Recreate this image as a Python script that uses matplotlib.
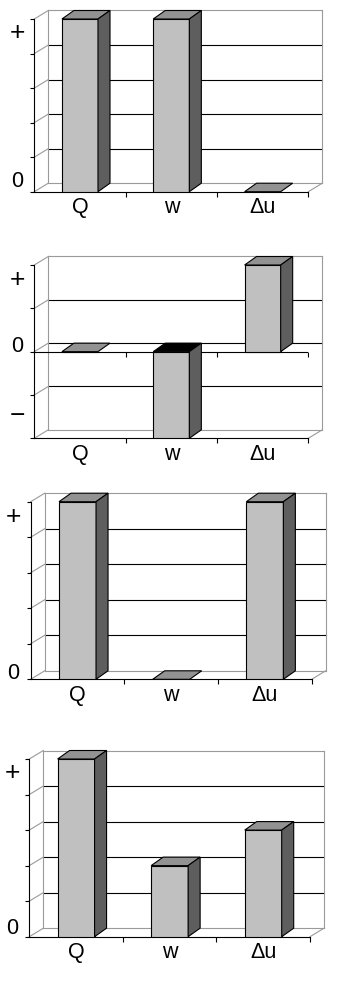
import matplotlib
matplotlib.use('Agg')
import matplotlib.pyplot as plt
from matplotlib.patches import Polygon
import numpy as np

plt.rcParams['font.family'] = ['Liberation Sans', 'DejaVu Sans']

# data
categories = ['Q', 'w', 'Δu']
values_a = [5, 5, 0]
values_b = [0, -2, 2]
values_c = [5, 0, 5]
values_d = [5, 2, 3]
all_values = [values_a, values_b, values_c, values_d]
y_ranges = [(0, 5), (-2, 2), (0, 5), (0, 5)]
sign_labels = [
    [('+', 4.6), ('0', 0.3)],
    [('+', 1.65), ('0', 0.12), ('−', -1.49)],
    [('+', 4.58), ('0', 0.17)],
    [('+', 4.6), ('0', 0.24)],
]

# layout: front plot box of every panel in pixels (left, right, top, bottom)
W_PX, H_PX = 352, 988
boxes = [(34.3, 308.3, 19, 191.7),
         (34.3, 308.3, 265, 438.3),
         (30.7, 311.7, 501.7, 679.3),
         (29.3, 310, 759, 936.7)]

# 3d look, in pixels
wall_dx, wall_dy = 14, 8.5
bar_dx, bar_dy = 12, 8.5
bar_width = 0.395

front_col = '#c0c0c0'
side_col = '#5e5e5e'
top_col = '#929292'
wall_col = '#9a9a9a'
lw = 0.8
fsize = 15.5
sign_size = 19


def draw_panel(ax, values, ylo, yhi, signs):
    ax.set_xlim(-0.5, 2.5)
    ax.set_ylim(ylo, yhi)
    pos = ax.get_position()
    px_cat = pos.width * W_PX / 3
    px_unit = pos.height * H_PX / (yhi - ylo)
    wdx, wdy = wall_dx / px_cat, wall_dy / px_unit
    bdx, bdy = bar_dx / px_cat, bar_dy / px_unit
    x0, x1 = -0.5, 2.5

    # back wall, left wall and floor
    levels = np.arange(ylo, yhi + 1)
    for y in levels:
        col = 'black' if ylo < y < yhi else wall_col
        ax.plot([x0 + wdx, x1 + wdx], [y + wdy, y + wdy], color=col,
                lw=lw, clip_on=False, zorder=1)
        ax.plot([x0, x0 + wdx], [y, y + wdy], color=wall_col, lw=lw,
                clip_on=False, zorder=1)
    for xe in (x0 + wdx, x1 + wdx):
        ax.plot([xe, xe], [ylo + wdy, yhi + wdy], color=wall_col, lw=lw,
                clip_on=False, zorder=1)
    ax.plot([x1, x1 + wdx], [ylo, ylo + wdy], color=wall_col, lw=lw,
            clip_on=False, zorder=1)

    # category axis crossing at zero when the range has negatives
    if ylo < 0 < yhi:
        ax.plot([x0, x1], [0, 0], color='black', lw=lw, zorder=2)
        ax.plot([0.5, 1.5, 2.5], [0, 0, 0], ls='none', marker=3,
                ms=3.6, mew=lw, color='black', zorder=2)

    # bars
    for i, v in enumerate(values):
        l, r = i - bar_width / 2, i + bar_width / 2
        lo, hi = min(0, v), max(0, v)
        ax.bar(i, v, width=bar_width, color=front_col, edgecolor='black',
               lw=lw, zorder=3)
        tcol = 'black' if v < 0 else top_col
        ax.add_patch(Polygon([(l, hi), (r, hi), (r + bdx, hi + bdy),
                              (l + bdx, hi + bdy)], closed=True,
                             facecolor=tcol, edgecolor='black', lw=lw,
                             clip_on=False, zorder=3))
        if v != 0:
            ax.add_patch(Polygon([(r, lo), (r + bdx, lo + bdy),
                                  (r + bdx, hi + bdy), (r, hi)], closed=True,
                                 facecolor=side_col, edgecolor='black', lw=lw,
                                 clip_on=False, zorder=3))

    # axes
    for s in ('top', 'right'):
        ax.spines[s].set_visible(False)
    for s in ('left', 'bottom'):
        ax.spines[s].set_linewidth(lw)
        ax.spines[s].set_zorder(2)
    ax.set_yticks(levels)
    ax.tick_params(axis='y', direction='out', length=3, width=lw,
                   labelleft=False)
    ax.set_xticks([0.5, 1.5, 2.5])
    ax.set_xticks([0, 1, 2], minor=True)
    ax.set_xticklabels(categories, minor=True)
    ax.tick_params(axis='x', which='major', direction='out', length=3.6,
                   width=lw, labelbottom=False)
    ax.tick_params(axis='x', which='minor', length=0, pad=15.5,
                   labelsize=fsize)
    for t in ax.get_xticklabels(minor=True):
        t.set_va('baseline')
        t.set_x(t.get_position()[0])

    for s, y in signs:
        size = fsize if s == '0' else sign_size
        dx = -17.5 if s == '0' else -17
        ax.annotate(s, xy=(x0, y), xytext=(dx, 0), textcoords='offset pixels',
                    ha='center', va='center', fontsize=size)


fig = plt.figure(figsize=(W_PX / 100, H_PX / 100), dpi=100)
for k in range(4):
    l, r, t, b = boxes[k]
    ax = fig.add_axes([l / W_PX, 1 - b / H_PX, (r - l) / W_PX, (b - t) / H_PX])
    ax.patch.set_visible(False)
    draw_panel(ax, all_values[k], *y_ranges[k], sign_labels[k])

fig.savefig('out.png', dpi=100)
